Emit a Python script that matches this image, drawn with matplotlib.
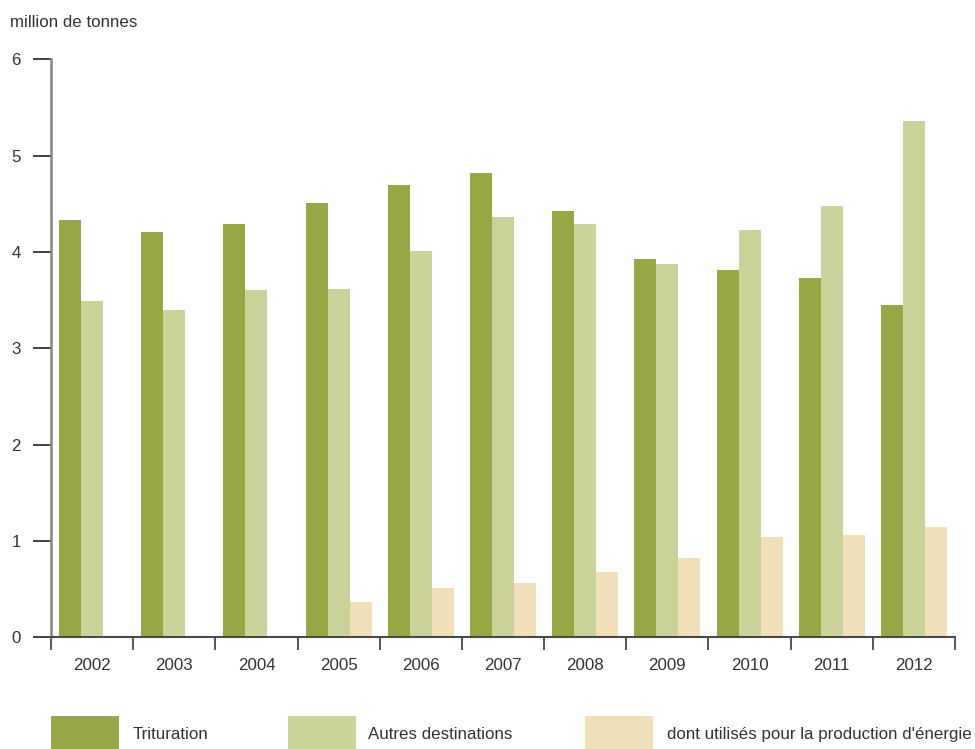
import matplotlib
matplotlib.use("Agg")
import matplotlib.pyplot as plt
from matplotlib.patches import Rectangle
import numpy as np

years = ["2002", "2003", "2004", "2005", "2006", "2007", "2008", "2009", "2010", "2011", "2012"]
trituration = [4.33, 4.21, 4.29, 4.51, 4.70, 4.82, 4.43, 3.93, 3.81, 3.73, 3.45]
autres = [3.49, 3.40, 3.60, 3.62, 4.01, 4.36, 4.29, 3.87, 4.23, 4.48, 5.36]
energie = [0, 0, 0, 0.37, 0.51, 0.56, 0.68, 0.82, 1.04, 1.06, 1.15]
series_names = ["Trituration", "Autres destinations", "dont utilisés pour la production d'énergie"]
colors = ["#95A845", "#CBD39A", "#F0DFB9"]
yticks = [0, 1, 2, 3, 4, 5, 6]

FONT = ["Liberation Sans Narrow", "Liberation Sans", "DejaVu Sans"]
plt.rcParams["font.family"] = FONT
FS = 12.2
TXT = "#333333"

W, H = 975, 749
fig = plt.figure(figsize=(W / 100, H / 100), dpi=100)
x0, x1 = 51, 955
ytop, ybot = 59.3, 637.3
ax = fig.add_axes([x0 / W, (H - ybot) / H, (x1 - x0) / W, (ybot - ytop) / H])

x = np.arange(len(years))
bw = 0.268
for i, (vals, c) in enumerate(zip([trituration, autres, energie], colors)):
    ax.bar(x + (i - 1) * bw, vals, width=bw, color=c, linewidth=0, zorder=2)

ax.set_xlim(-0.5, len(years) - 0.5)
ax.set_ylim(0, 6)

for s in ["top", "right"]:
    ax.spines[s].set_visible(False)
ax.spines["left"].set_color("#858585")
ax.spines["left"].set_linewidth(1.8)
ax.spines["bottom"].set_color("#4a4a4a")
ax.spines["bottom"].set_linewidth(1.5)
ax.spines["bottom"].set_zorder(3)

ax.set_yticks(yticks)
ax.set_yticklabels([str(v) for v in yticks])
ax.tick_params(axis="y", length=13, width=1.3, color="#333333", pad=8.6,
               labelsize=FS, labelcolor=TXT)

ax.set_xticks(np.arange(-0.5, len(years), 1.0))
ax.set_xticklabels([])
ax.tick_params(axis="x", which="major", length=9.5, width=1.3, color="#4a4a4a")
ax.set_xticks(x, minor=True)
ax.set_xticklabels(years, minor=True)
ax.tick_params(axis="x", which="minor", length=0, pad=15.2, labelsize=FS, labelcolor=TXT)

fig.text(10 / W, 1 - 26.7 / H, "million de tonnes", fontsize=FS, color=TXT,
         ha="left", va="baseline")

leg_patch_x = [51, 288, 585]
leg_text_x = [133, 368, 667]
for px, tx, c, name in zip(leg_patch_x, leg_text_x, colors, series_names):
    fig.patches.append(Rectangle((px / W, 0), 68 / W, 33 / H, transform=fig.transFigure,
                                 facecolor=c, edgecolor="none"))
    fig.text(tx / W, 1 - 739.3 / H, name, fontsize=FS, color=TXT, ha="left", va="baseline")

fig.savefig("out.png", dpi=100)
